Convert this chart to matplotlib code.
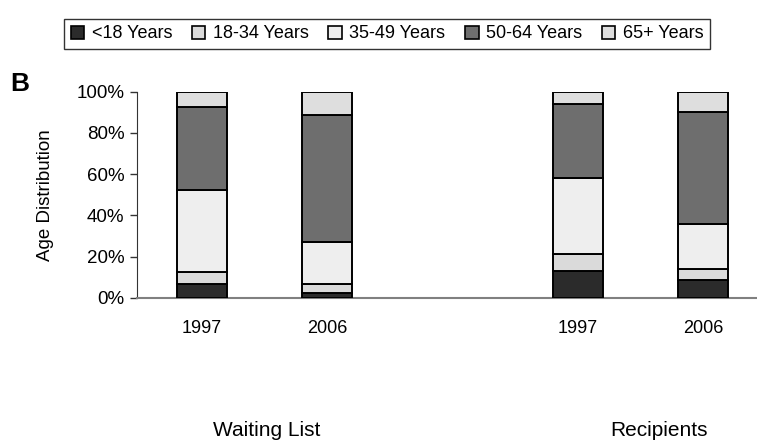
import matplotlib
matplotlib.use("Agg")
import matplotlib.pyplot as plt
import numpy as np
from matplotlib.patches import Patch

plt.rcParams['font.family'] = ['Liberation Sans', 'DejaVu Sans']

years = ["1997", "2006", "1997", "2006"]
positions = [0, 1, 3, 4]
groups = ["Waiting List", "Recipients"]
age_groups = ["<18 Years", "18-34 Years", "35-49 Years", "50-64 Years", "65+ Years"]

under18 = [6.8, 2.3, 13.3, 8.5]
age18_34 = [5.9, 4.6, 8.2, 5.7]
age35_49 = [39.8, 20.4, 36.7, 21.8]
age50_64 = [40.3, 61.4, 35.7, 54.2]
age65 = [7.2, 11.3, 6.1, 9.8]
series = [under18, age18_34, age35_49, age50_64, age65]
colors = ["#2b2b2b", "#dadada", "#eeeeee", "#6e6e6e", "#dedede"]

fig = plt.figure(figsize=(7.57, 4.45), dpi=100)
ax = fig.add_axes([137/757, 1-298/445, 1-137/757, (298-91.7)/445])

bottom = np.zeros(len(positions))
for vals, c, lab in zip(series, colors, age_groups):
    v = np.array(vals) / 100.0
    ax.bar(positions, v, width=0.4, bottom=bottom, color=c, edgecolor="black",
           linewidth=1.4, label=lab, zorder=3)
    bottom += v

ax.set_xlim(-0.52, 4.43)
ax.set_ylim(0, 1.0)
ax.set_yticks(np.linspace(0, 1, 6))
ax.set_yticklabels([f"{int(t*100)}%" for t in np.linspace(0, 1, 6)], fontsize=13.5)
ax.set_xticks(positions)
ax.set_xticklabels(years, fontsize=13)
ax.tick_params(axis='x', length=0, pad=16)
ax.tick_params(axis='y', length=5, width=1, color="#333333", pad=4, direction='out')
for s in ["top", "right"]:
    ax.spines[s].set_visible(False)
ax.spines["left"].set_color("#333333")
ax.spines["bottom"].set_color("#808080")
ax.spines["bottom"].set_linewidth(1.5)

ax.set_ylabel("Age Distribution", fontsize=13.5, labelpad=16)

fig.text(10/757, 1-84/445, "B", fontsize=19, fontweight="bold", va="center", ha="left")

handles = [Patch(facecolor=c, edgecolor="black", linewidth=1.2) for c in colors]
leg = fig.legend(handles, age_groups, loc="center", bbox_to_anchor=(387/757, 1-34/445),
                 ncol=5, fontsize=13, frameon=True, fancybox=False,
                 handlelength=0.75, handleheight=0.75, handletextpad=0.4,
                 columnspacing=1.1, borderpad=0.35, borderaxespad=0)
leg.get_frame().set_edgecolor("black")
leg.get_frame().set_linewidth(1.0)

fig.text(213/757, 1-436/445, groups[0], fontsize=15, ha="left", va="baseline")
fig.text(610/757, 1-436/445, groups[1], fontsize=15, ha="left", va="baseline")

fig.savefig("out.png", dpi=100)
